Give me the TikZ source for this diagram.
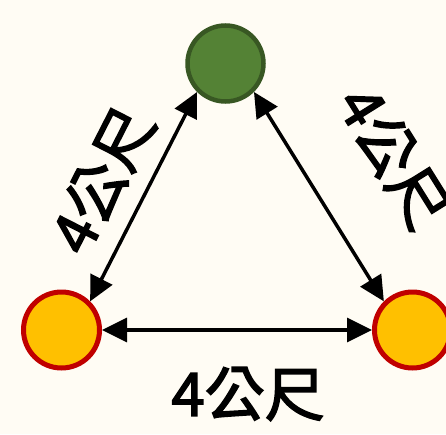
\documentclass[tikz,border=0pt]{standalone}
\usepackage{fontspec}
\newfontfamily\cjk[FakeBold=2.5]{Noto Sans CJK TC}
\usetikzlibrary{arrows.meta}
\definecolor{bgc}{HTML}{FFFCF4}
\definecolor{gfill}{HTML}{548235}
\definecolor{gdraw}{HTML}{385723}
\definecolor{ofill}{HTML}{FFC000}
\definecolor{odraw}{HTML}{C00000}
\tikzset{
  topdot/.style={circle,fill=gfill,draw=gdraw,line width=4.5pt,minimum size=76pt,inner sep=0pt},
  sidedot/.style={circle,fill=ofill,draw=odraw,line width=5pt,minimum size=76pt,inner sep=0pt},
  link/.style={line width=3.5pt,{Triangle[length=25pt,width=24pt]}-{Triangle[length=25pt,width=24pt]}},
  dist/.style={font=\cjk\fontsize{60}{62}\selectfont,inner sep=0pt}
}
\begin{document}
\begin{tikzpicture}[x=1pt,y=-1pt]
\fill[bgc] (0,0) rectangle (446,434);
\useasboundingbox (0,0) rectangle (446,434);
\node[topdot] (g) at (225.5,63.5) {};
\node[sidedot] (l) at (61.5,330) {};
\node[sidedot] (r) at (412.5,330) {};
\draw[link] (g.225) -- (l.45);
\draw[link] (g.315) -- (r.135);
\draw[link] (l) -- (r);
\node[dist,rotate=63] (t1) at (102,180) {4公尺};
\node[dist,rotate=-58] (t2) at (394,157) {4公尺};
\node[dist] (t3) at (248,394) {4公尺};
\end{tikzpicture}
\end{document}
